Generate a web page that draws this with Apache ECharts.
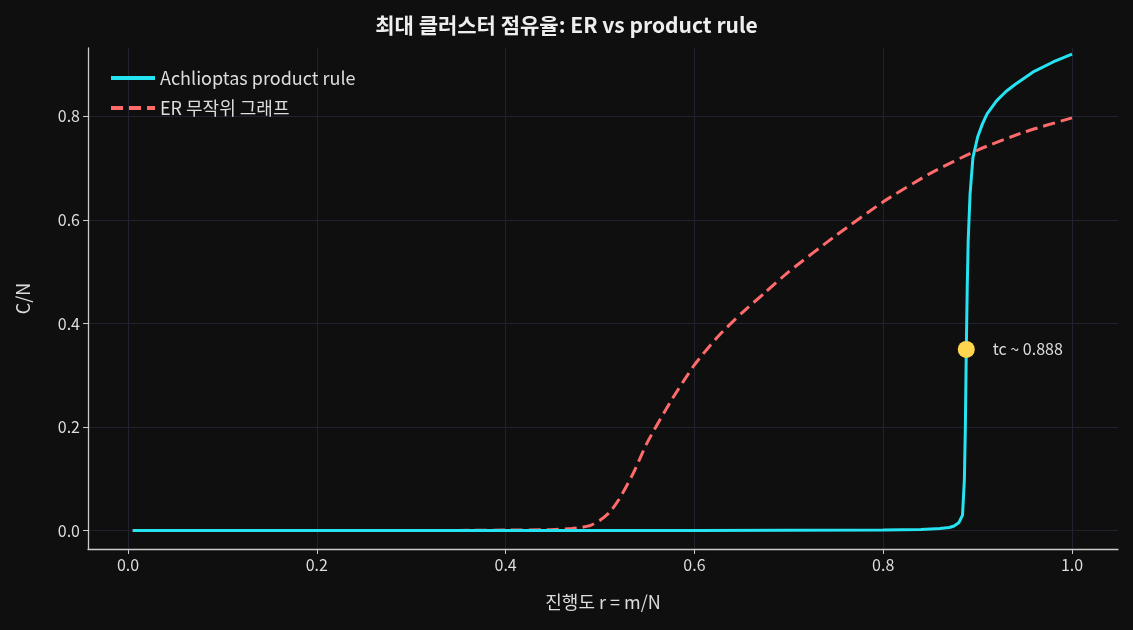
<!DOCTYPE html>
<html><head><meta charset="utf-8">
<script src="https://cdn.jsdelivr.net/npm/echarts@6/dist/echarts.min.js"></script>
<style>html,body{margin:0;background:#0f0f0f}#c{width:1133px;height:630px}</style>
</head><body><div id="c"></div>
<script>
const erX = [0.005,0.1,0.2,0.3,0.4,0.45,0.47,0.48,0.49,0.5,0.51,0.52,0.535,0.55,0.575,0.6,0.625,0.65,0.675,0.7,0.75,0.8,0.85,0.9,0.95,1.0];
const erY = [0,0,0,0,0.001,0.002,0.004,0.006,0.01,0.02,0.035,0.06,0.11,0.17,0.25,0.32,0.375,0.42,0.46,0.5,0.57,0.635,0.69,0.735,0.77,0.797];
const prX = [0.005,0.2,0.4,0.6,0.8,0.84,0.86,0.87,0.875,0.88,0.884,0.886,0.887,0.888,0.889,0.89,0.892,0.895,0.9,0.905,0.91,0.92,0.93,0.94,0.96,0.98,1.0];
const prY = [0,0,0,0,0.001,0.002,0.004,0.006,0.009,0.015,0.03,0.1,0.2,0.35,0.47,0.56,0.65,0.72,0.76,0.785,0.805,0.83,0.848,0.862,0.887,0.905,0.92];
const tc = [0.888, 0.35];
const tcLabel = 'tc ~ 0.888';
const xTicks = [0,0.2,0.4,0.6,0.8,1.0];
const yTicks = [0,0.2,0.4,0.6,0.8];
const pair=(a,b)=>a.map((v,i)=>[v,b[i]]);
const font='"Noto Sans CJK KR","Noto Sans",sans-serif';
const chart=echarts.init(document.getElementById('c'));
chart.setOption({
 backgroundColor:'#0f0f0f',
 textStyle:{fontFamily:font},
 title:{text:'최대 클러스터 점유율: ER vs product rule',left:'center',top:10,textStyle:{color:'#eeeeee',fontSize:21,fontWeight:'bold',fontFamily:font}},
 legend:{left:106,top:64,orient:'vertical',itemGap:12,itemWidth:44,itemHeight:4,textStyle:{color:'#dddddd',fontSize:18},
   data:[{name:'Achlioptas product rule',icon:'rect'},{name:'ER 무작위 그래프',icon:'path://M0,0h12v4h-12zM18,0h12v4h-12zM36,0h8v4h-8z'}]},
 grid:{left:88,right:15,top:48,bottom:81},
 xAxis:{type:'value',min:-0.0424,max:1.0487,
   name:'진행도 r = m/N',nameLocation:'middle',nameGap:44,nameTextStyle:{color:'#dddddd',fontSize:18},
   axisLine:{onZero:false,lineStyle:{color:'#cccccc',width:1.3}},
   axisLabel:{color:'#dddddd',fontSize:16,customValues:xTicks,formatter:v=>v.toFixed(1)},
   axisTick:{customValues:xTicks,lineStyle:{color:'#cccccc'}},
   splitLine:{show:true,lineStyle:{color:'#22222e'}}},
 yAxis:{type:'value',min:-0.0355,max:0.932,
   name:'C/N',nameLocation:'middle',nameGap:56,nameTextStyle:{color:'#dddddd',fontSize:18},
   axisLine:{show:true,onZero:false,lineStyle:{color:'#cccccc',width:1.3}},
   axisLabel:{color:'#dddddd',fontSize:16,customValues:yTicks,formatter:v=>v.toFixed(1)},
   axisTick:{show:true,customValues:yTicks,lineStyle:{color:'#cccccc'}},
   splitLine:{show:true,lineStyle:{color:'#22222e'}}},
 series:[
  {name:'Achlioptas product rule',type:'line',data:pair(prX,prY),showSymbol:false,lineStyle:{color:'#25e3f0',width:3},itemStyle:{color:'#25e3f0'},z:3},
  {name:'ER 무작위 그래프',type:'line',data:pair(erX,erY),showSymbol:false,smooth:0.2,lineStyle:{color:'#ff6b6b',width:3,type:[12,6]},itemStyle:{color:'#ff6b6b'},z:2},
  {name:'tc',type:'scatter',data:[tc],symbolSize:17,itemStyle:{color:'#ffd54f',opacity:1},z:5,
   label:{show:true,position:'right',distance:18,formatter:tcLabel,color:'#dddddd',fontSize:16}}
 ]
});
</script></body></html>
